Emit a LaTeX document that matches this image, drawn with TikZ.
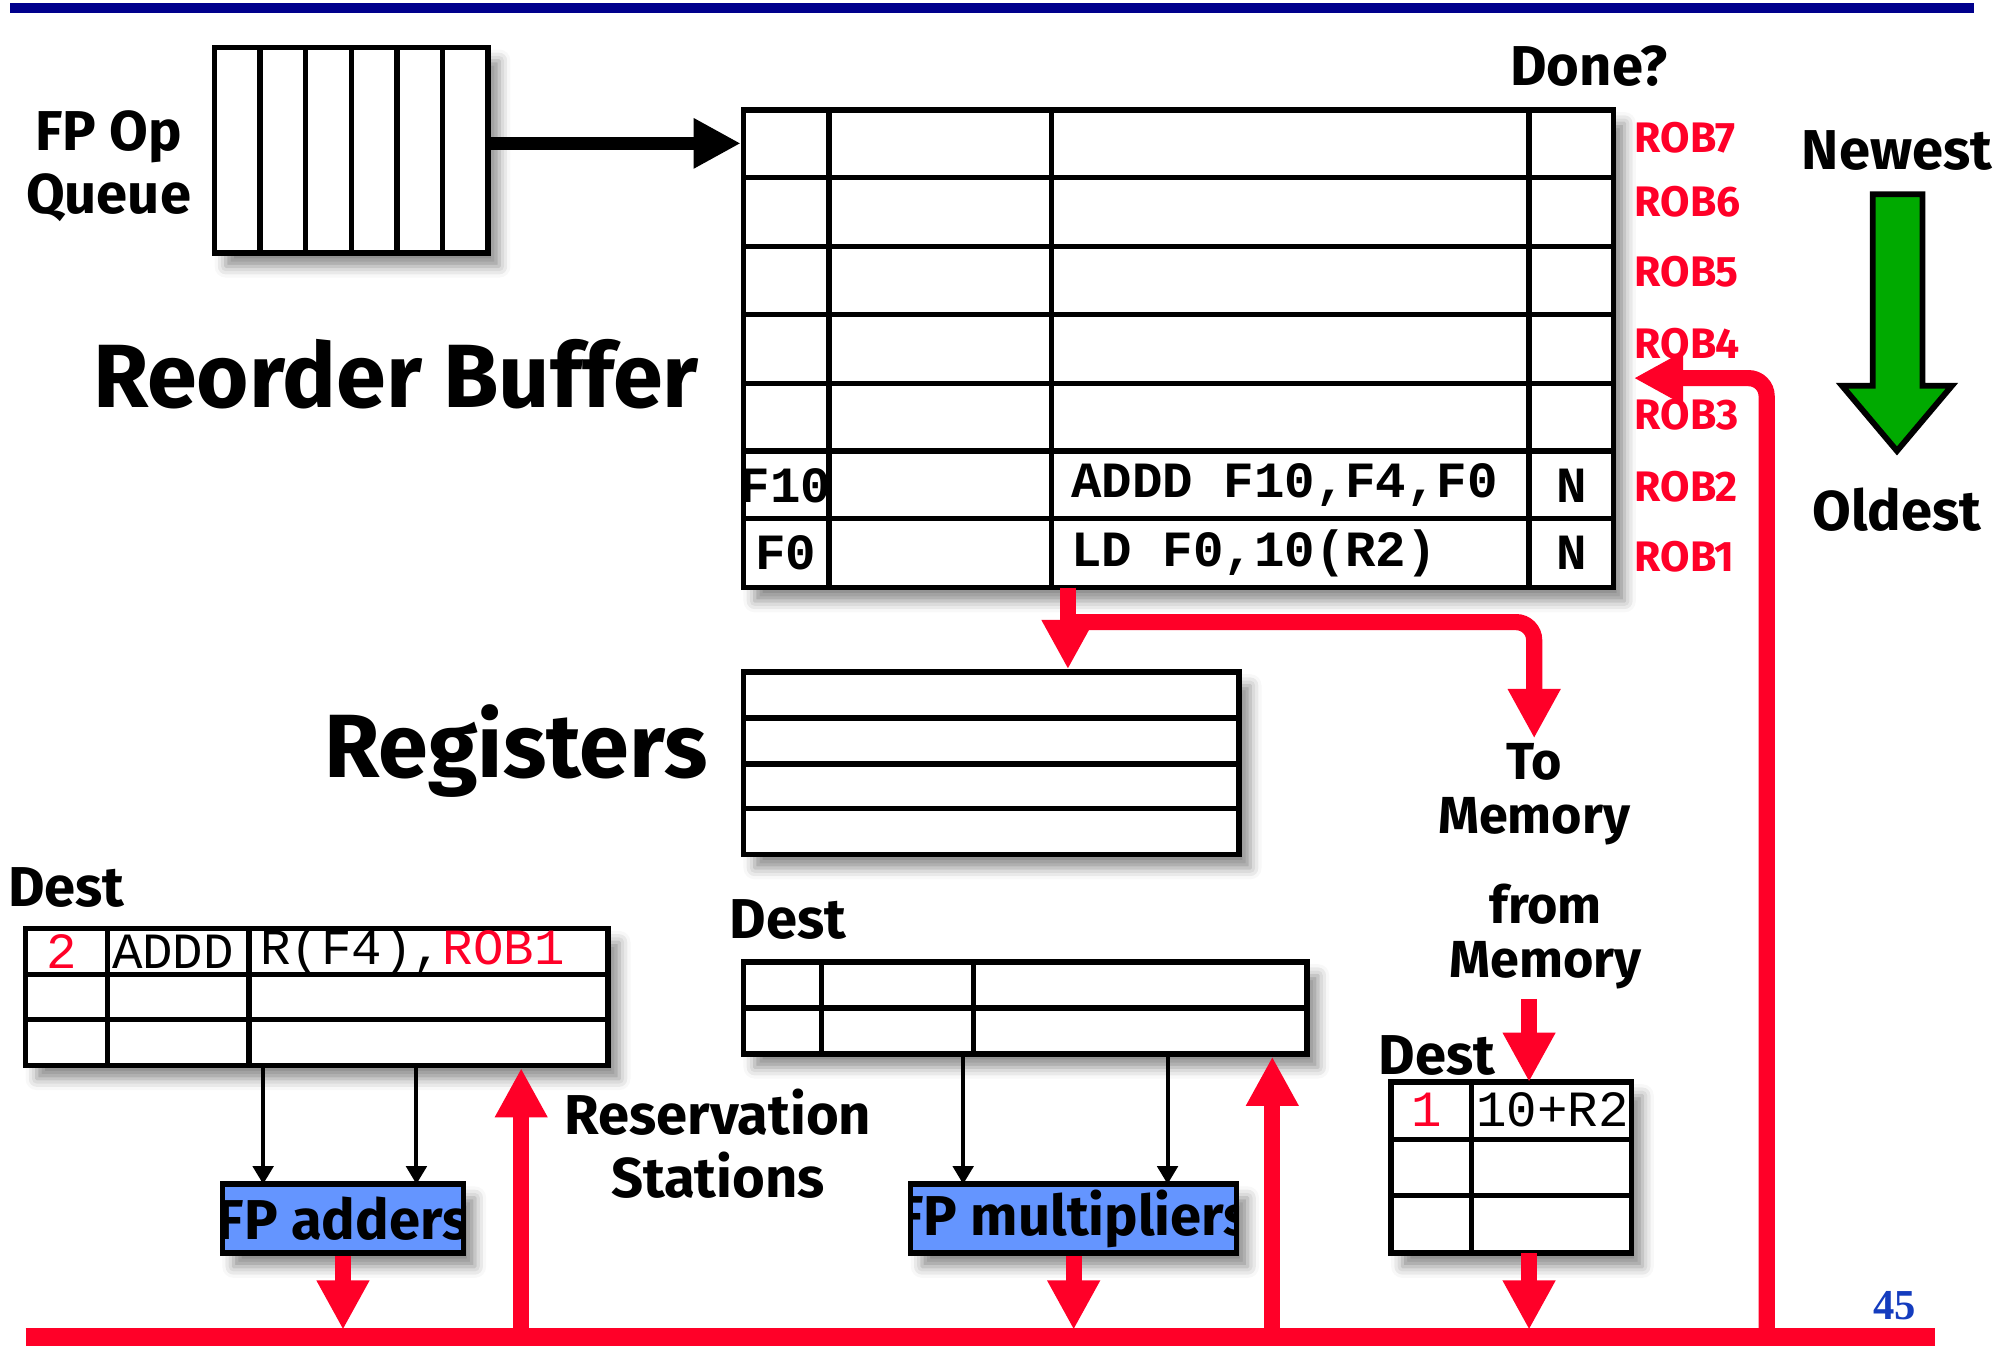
\documentclass[tikz,border=0pt]{standalone}
\usepackage{fontspec}
\setmainfont{Fira Sans}
\setmonofont{Liberation Mono}
\newfontfamily\numfont{Liberation Serif}
\usetikzlibrary{arrows.meta,positioning,fit,calc,shadows.blur}

\definecolor{robred}{RGB}{255,0,40}
\definecolor{barblue}{RGB}{0,0,140}
\definecolor{fublue}{RGB}{100,149,255}
\definecolor{arrgreen}{RGB}{0,170,0}
\definecolor{pgblue}{RGB}{20,60,190}

\begin{document}
\begin{tikzpicture}[
  x=0.01cm, y=-0.01cm,
  font=\fontsize{12.5}{14}\selectfont\bfseries,
  tbl/.style={draw, line width=1.2pt, fill=white, inner sep=0pt,
    blur shadow={shadow xshift=2.5pt, shadow yshift=-3pt, shadow blur radius=2.5pt, shadow opacity=45}},
  tline/.style={line width=1.2pt},
  fu/.style={tbl, fill=fublue},
  lbl/.style={align=center, inner sep=1pt},
  tight/.style={lbl, font=\fontsize{11.6}{12}\selectfont\bfseries},
  big/.style={font=\fontsize{20}{24}\selectfont\bfseries},
  code/.style={font=\fontsize{11.3}{13}\selectfont\ttfamily, inner sep=0pt},
  robcode/.style={font=\fontsize{11.3}{13}\selectfont\ttfamily\bfseries, inner sep=0pt},
  robtag/.style={text=robred, font=\fontsize{9.5}{11}\selectfont\bfseries, anchor=west, inner sep=0pt},
  rarr/.style={draw=robred, line width=3.6pt, -{Triangle[length=11pt,width=11pt]}},
  barr/.style={line width=0.9pt, -{Triangle[length=4pt,width=4.5pt]}}
]
\useasboundingbox (0,0) rectangle (1568,1054);
\fill[barblue] (8,2) rectangle (1545,10);

% instruction queue
\node[tbl, fit={(168,37) (382,198)}] (queue) {};
\foreach \i in {1,...,5}
  \draw[tline] ({168+\i*35.67},37) -- ({168+\i*35.67},198);
\node[lbl] (qlbl) at (85,130) {FP Op\\Queue};

% reorder buffer
\node[tbl, fit={(582,86) (1263,460)}] (rob) {};
\foreach \y in {139,193,246,300,353,406}
  \draw[tline] (582,\y) -- (1263,\y);
\foreach \x in {649,823,1197}
  \draw[tline] (\x,86) -- (\x,460);
\node[robcode] (r2dst) at (615,380) {F10};
\node[robcode, anchor=west] (r2ins) at (838,380) {ADDD F10,F4,F0};
\node[robcode] (r2done) at (1230,380) {N};
\node[robcode] (r1dst) at (615,433) {F0};
\node[robcode, anchor=west] (r1ins) at (838,433) {LD F0,10(R2)};
\node[robcode] (r1done) at (1230,433) {N};
\node[lbl] (done) at (1244,52) {Done?};
\foreach \n/\y in {7/108,6/158,5/213,4/269,3/325,2/381,1/436}
  \node[robtag] (rob\n) at (1279,\y) {ROB\n};
\node[big] (robttl) at (310,293) {Reorder Buffer};
\draw[line width=2.8pt, -{Triangle[length=10.5pt,width=10.5pt]}]
  ([yshift=1.5pt]queue.east) -- ([yshift=1.5pt]queue.east -| rob.west);

% age arrow
\node[lbl] (newest) at (1485,118) {Newest};
\draw[line width=1.3pt, fill=arrgreen] (1466,152) -- (1505,152) -- (1505,302) -- (1528,302)
  -- (1485,353) -- (1442,302) -- (1466,302) -- cycle;
\node[lbl] (oldest) at (1485,399) {Oldest};

% registers
\node[tbl, fit={(582,526) (970,669)}] (regs) {};
\foreach \y in {562,598,633}
  \draw[tline] (582,\y) -- (970,\y);
\node[big] (regttl) at (404,588) {Registers};

\coordinate (robout) at (836,460);
\coordinate (split) at (836,487);
\draw[rarr] (robout) -- (robout |- regs.north);
\node[tight] (tomem) at (1201,622) {To\\Memory};
\draw[rarr, rounded corners=4pt] (split) -| (tomem.north);

% common data bus
\coordinate (busL) at (20,1047);
\coordinate (busR) at (1515,1047);
\coordinate (bustop) at (0,1041);
\draw[robred, line width=4pt] (busL) -- (busR);

% load buffer
\node[tight] (frmem) at (1210,733) {from\\Memory};
\node[tbl, fit={(1089,847) (1277,981)}] (ldb) {};
\foreach \y in {892,936}
  \draw[tline] (1089,\y) -- (1277,\y);
\draw[tline] (1152,847) -- (1152,981);
\node[lbl] (ldest) at (1125,826) {Dest};
\node[code, text=robred] (l1tag) at (1117,869) {1};
\node[code, anchor=west] (l1adr) at (1155,869) {10+R2};
\coordinate (ldin) at (1197,847);
\coordinate (ldout) at (1197,981);
\draw[rarr] ([yshift=-1pt]ldin |- frmem.south) -- (ldin);
\draw[rarr] (ldout) -- (ldout |- bustop);

% adder reservation stations
\node[tbl, fit={(20,727) (476,834)}] (rsadd) {};
\foreach \y in {763,798}
  \draw[tline] (20,\y) -- (476,\y);
\foreach \x in {84,195}
  \draw[tline] (\x,727) -- (\x,834);
\node[lbl] (adest) at (52,695) {Dest};
\node[code, text=robred] (a1tag) at (48,745) {2};
\node[code, anchor=west] (a1op) at (87,745) {ADDD};
\node[code, anchor=west] (a1src) at (203,745) {R(F4),\textcolor{robred}{ROB1}};

\node[fu, fit={(174,927) (363,981)}] (fpadd) {};
\begin{scope}
  \clip ([shift={(0.6pt,0.6pt)}]fpadd.south west) rectangle ([shift={(-0.6pt,-0.6pt)}]fpadd.north east);
  \node[lbl] (addlbl) at (fpadd) {FP adders};
\end{scope}
\coordinate (ain1) at (206,927);
\coordinate (ain2) at (326,927);
\draw[barr] (ain1 |- rsadd.south) -- (ain1);
\draw[barr] (ain2 |- rsadd.south) -- (ain2);
\draw[rarr] (fpadd.south) -- (fpadd.south |- bustop);
\coordinate (afb) at (408,1047);
\draw[rarr] (afb) -- (afb |- rsadd.south);

\node[lbl] (rslbl) at (562,895) {Reservation\\Stations};

% multiplier reservation stations
\node[tbl, fit={(582,753) (1023,825)}] (rsmul) {};
\draw[tline] (582,789) -- (1023,789);
\foreach \x in {643,762}
  \draw[tline] (\x,753) -- (\x,825);
\node[lbl] (mdest) at (617,720) {Dest};

\node[fu, fit={(713,927) (968,981)}] (fpmul) {};
\begin{scope}
  \clip ([shift={(0.6pt,0.6pt)}]fpmul.south west) rectangle ([shift={(-0.6pt,-0.6pt)}]fpmul.north east);
  \node[lbl] (mullbl) at (fpmul) {FP multipliers};
\end{scope}
\coordinate (min1) at (754,927);
\coordinate (min2) at (914,927);
\draw[barr] (min1 |- rsmul.south) -- (min1);
\draw[barr] (min2 |- rsmul.south) -- (min2);
\draw[rarr] (fpmul.south) -- (fpmul.south |- bustop);
\coordinate (mfb) at (996,1047);
\draw[rarr] (mfb) -- (mfb |- rsmul.south);

% result back to the reorder buffer
\coordinate (fbbase) at (1383,1047);
\coordinate (fbtip) at (1279,296);
\draw[rarr, rounded corners=4pt] (fbbase) |- (fbtip);

\node[font=\fontsize{9.5}{11}\selectfont\numfont\bfseries, text=pgblue] (pgno) at (1483,1022) {45};
\end{tikzpicture}
\end{document}
